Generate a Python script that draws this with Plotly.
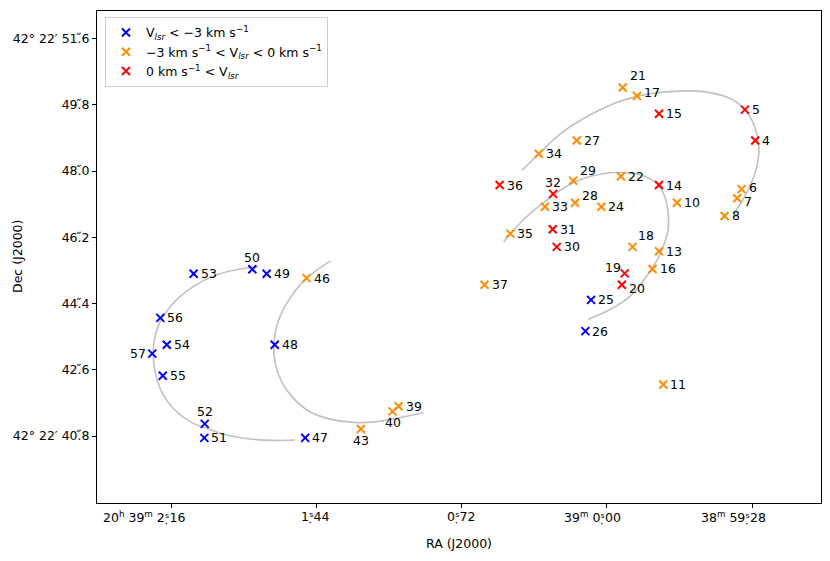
import plotly.graph_objects as go

# ---- data (RA: seconds offset from 20h39m00s; Dec: arcsec past 42d22m) ----
ids = [4, 5, 6, 7, 8, 10, 11, 13, 14, 15, 16, 17, 18, 19, 20, 21, 22, 24, 25, 26,
       27, 28, 29, 30, 31, 32, 33, 34, 35, 36, 37, 39, 40, 43, 46, 47, 48, 49, 50,
       51, 52, 53, 54, 55, 56, 57]
ra = [-0.736, -0.685, -0.668, -0.647, -0.584, -0.348, -0.280, -0.259, -0.259, -0.259,
      -0.227, -0.150, -0.128, -0.089, -0.075, -0.079, -0.070, 0.027, 0.078, 0.106,
      0.149, 0.157, 0.167, 0.248, 0.268, 0.266, 0.306, 0.337, 0.478, 0.531,
      0.606, 1.032, 1.062, 1.219, 1.488, 1.495, 1.646, 1.686, 1.757,
      1.995, 1.993, 2.048, 2.181, 2.201, 2.213, 2.253]
dec = [48.83, 49.67, 47.51, 47.26, 46.78, 47.14, 42.20, 45.82, 47.62, 49.56,
       45.34, 50.04, 45.94, 45.22, 44.91, 50.27, 47.86, 47.03, 44.50, 43.65,
       48.83, 47.14, 47.74, 45.94, 46.42, 47.38, 47.03, 48.47, 46.30, 47.62,
       44.91, 41.61, 41.47, 40.99, 45.09, 40.75, 43.28, 45.21, 45.33,
       40.75, 41.13, 45.21, 43.28, 42.44, 44.01, 43.04]
vgroup = ["red", "red", "mid", "mid", "mid", "mid", "mid", "mid", "red", "red",
          "mid", "mid", "mid", "red", "red", "mid", "mid", "mid", "neg", "neg",
          "mid", "mid", "mid", "red", "red", "red", "mid", "mid", "mid", "red",
          "mid", "mid", "mid", "mid", "mid", "neg", "neg", "neg", "neg",
          "neg", "neg", "neg", "neg", "neg", "neg", "neg"]

arc1_ra = [1.728, 1.818, 1.934, 2.050, 2.149, 2.214, 2.244, 2.248, 2.239, 2.206,
           2.149, 2.066, 1.983, 1.884, 1.769, 1.620, 1.546]
arc1_dec = [45.40, 45.34, 45.18, 44.86, 44.41, 43.91, 43.36, 43.00, 42.55, 42.00,
            41.55, 41.19, 41.01, 40.83, 40.72, 40.68, 40.69]
arc2_ra = [1.369, 1.488, 1.571, 1.629, 1.650, 1.645, 1.612, 1.554, 1.472, 1.372,
           1.257, 1.141, 1.026, 0.907]
arc2_dec = [45.56, 45.09, 44.54, 43.91, 43.27, 42.82, 42.28, 41.83, 41.46, 41.26,
            41.17, 41.19, 41.30, 41.44]
arc3_ra = [0.420, 0.336, 0.258, 0.167, 0.002, -0.147, -0.312, -0.477, -0.609, -0.683,
           -0.733, -0.754, -0.744, -0.716, -0.675, -0.630]
arc3_dec = [48.02, 48.47, 48.88, 49.26, 49.75, 50.03, 50.16, 50.16, 49.98, 49.68,
            49.21, 48.67, 48.12, 47.67, 47.22, 46.85]
arc4_ra = [0.511, 0.415, 0.316, 0.200, 0.085, -0.054, -0.163, -0.246, -0.287, -0.304,
           -0.304, -0.262, -0.196, -0.113, -0.014, 0.093]
arc4_dec = [46.08, 46.67, 47.13, 47.58, 47.85, 47.96, 47.90, 47.67, 47.31, 46.86,
            46.40, 45.72, 45.13, 44.59, 44.23, 43.97]

x_tickvals = [2.16, 1.44, 0.72, 0.00, -0.72]
x_ticktext = ["20<sup>h</sup> 39<sup>m</sup> 2\u02e2\u032316", "1\u02e2\u032344",
              "0\u02e2\u032372", "39<sup>m</sup> 0\u02e2\u032300",
              "38<sup>m</sup> 59\u02e2\u032328"]
y_tickvals = [40.8, 42.6, 44.4, 46.2, 48.0, 49.8, 51.6]
y_ticktext = ["42\u00b0 22\u2032 40.\u030b8", "42.\u030b6", "44.\u030b4", "46.\u030b2",
              "48.\u030b0", "49.\u030b8", "42\u00b0 22\u2032 51.\u030b6"]

group_order = ["neg", "mid", "red"]
group_names = {
    "neg": "V<sub><i>lsr</i></sub> &lt; \u22123 km s<sup>\u22121</sup>",
    "mid": "\u22123 km s<sup>\u22121</sup> &lt; V<sub><i>lsr</i></sub> &lt; 0 km s<sup>\u22121</sup>",
    "red": "0 km s<sup>\u22121</sup> &lt; V<sub><i>lsr</i></sub>",
}
group_colors = {"neg": "#0000ff", "mid": "#ff8c00", "red": "#ff0000"}

# label placement style (xanchor, xshift, yshift); default is right of marker
label_style = {
    50: ("center", 0, 12), 52: ("center", 0, 12), 57: ("right", -4, 0),
    40: ("center", 0, -11), 43: ("center", 0, -11), 21: ("left", 5, 12),
    29: ("left", 5, 10), 32: ("center", 0, 11), 28: ("left", 5, 7),
    18: ("left", 3, 11), 19: ("right", -2, 6), 20: ("left", 5, -4),
    7: ("left", 5, -3), 6: ("left", 5, 2), 17: ("left", 5, 4),
}

FONT = "DejaVu Sans"
FS = 12.5

fig = go.Figure()

for ax, ay in [(arc1_ra, arc1_dec), (arc2_ra, arc2_dec), (arc3_ra, arc3_dec), (arc4_ra, arc4_dec)]:
    fig.add_trace(go.Scatter(x=ax, y=ay, mode="lines",
                             line=dict(color="#c0c0c0", width=1.6, shape="spline", smoothing=1.0),
                             showlegend=False, hoverinfo="skip"))

for g in group_order:
    xs = [r for r, v in zip(ra, vgroup) if v == g]
    ys = [d for d, v in zip(dec, vgroup) if v == g]
    c = group_colors[g]
    fig.add_trace(go.Scatter(x=xs, y=ys, mode="markers", name=group_names[g],
                             marker=dict(symbol="x-thin", size=8, color=c,
                                         line=dict(width=2, color=c))))

annotations = []
for i, r, d in zip(ids, ra, dec):
    xa, xs_, ys_ = label_style.get(i, ("left", 5, 0))
    annotations.append(dict(x=r, y=d, xref="x", yref="y", text=str(i), showarrow=False,
                            xanchor=xa, yanchor="middle", xshift=xs_, yshift=ys_,
                            font=dict(family=FONT, size=FS, color="black")))

for v, t in zip(x_tickvals, x_ticktext):
    annotations.append(dict(x=v, y=0, xref="x", yref="paper", text=t, showarrow=False,
                            xanchor="right", yanchor="top", xshift=16, yshift=-4,
                            font=dict(family=FONT, size=FS, color="black")))

annotations.append(dict(x=0.5, y=0, xref="paper", yref="paper", text="RA (J2000)",
                        showarrow=False, xanchor="center", yanchor="middle", yshift=-40,
                        font=dict(family=FONT, size=FS, color="black")))
annotations.append(dict(x=0, y=0.5, xref="paper", yref="paper", text="Dec (J2000)",
                        showarrow=False, xanchor="center", yanchor="middle", xshift=-80,
                        textangle=-90, font=dict(family=FONT, size=FS, color="black")))

fig.update_layout(
    width=830, height=561,
    margin=dict(l=97, r=9, t=11, b=58),
    paper_bgcolor="white", plot_bgcolor="white",
    font=dict(family=FONT, size=FS, color="black"),
    showlegend=True,
    legend=dict(x=0.011, y=0.988, xanchor="left", yanchor="top",
                bgcolor="white", bordercolor="#cccccc", borderwidth=1,
                font=dict(family=FONT, size=FS, color="black"), tracegroupgap=0),
    annotations=annotations,
)
fig.update_xaxes(range=[2.527, -1.062], showgrid=False, zeroline=False,
                 tickvals=x_tickvals, showticklabels=False,
                 ticks="outside", ticklen=4, tickcolor="black",
                 showline=True, linecolor="black", linewidth=1, mirror=True)
fig.update_yaxes(range=[38.98, 52.35], showgrid=False, zeroline=False,
                 tickvals=y_tickvals, ticktext=y_ticktext,
                 ticks="outside", ticklen=4, tickcolor="black",
                 showline=True, linecolor="black", linewidth=1, mirror=True)

fig.write_html("out.html", config={"displayModeBar": False},
               post_script="document.body.style.margin='0';document.body.style.overflow='hidden';")
